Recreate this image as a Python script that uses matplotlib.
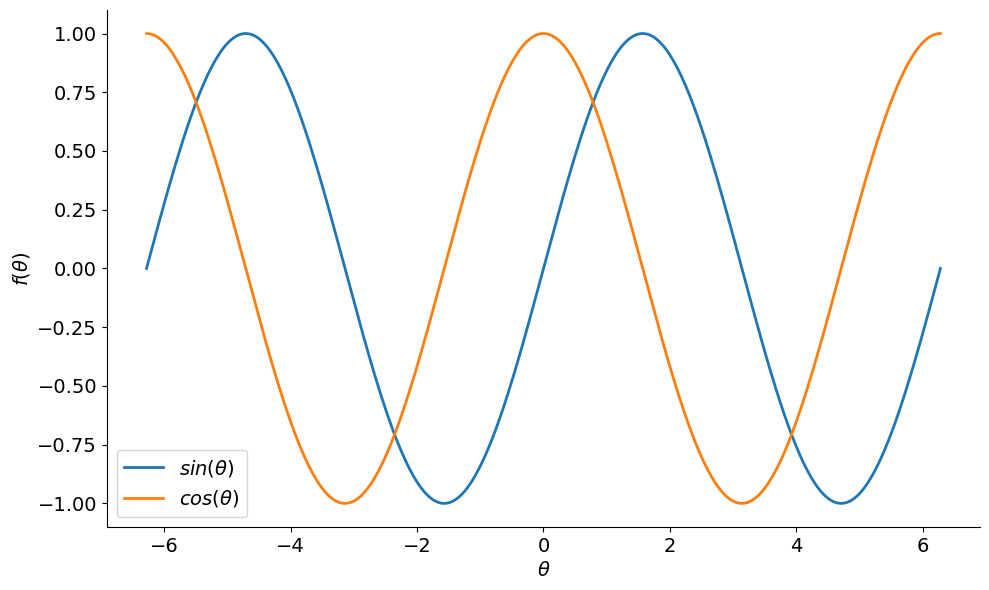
import numpy as np
import matplotlib.pyplot as plt

# the plotted functions, sampled over [-2pi, 2pi]
theta = np.linspace(-2 * np.pi, 2 * np.pi, 400)
sin_vals = np.sin(theta)
cos_vals = np.cos(theta)
labels = [r'$sin(\theta)$', r'$cos(\theta)$']

plt.rcParams['font.size'] = 14
fig, ax = plt.subplots(figsize=(9.89, 5.9), dpi=100)
ax.plot(theta, sin_vals, lw=2, label=labels[0])
ax.plot(theta, cos_vals, lw=2, label=labels[1])
ax.spines['top'].set_visible(False)
ax.spines['right'].set_visible(False)
ax.set_xlabel(r'$\theta$')
ax.set_ylabel(r'$f(\theta)$')
ax.legend(loc='lower left')
fig.subplots_adjust(left=0.108, right=0.991, top=0.983, bottom=0.107)
fig.savefig('out.png')
